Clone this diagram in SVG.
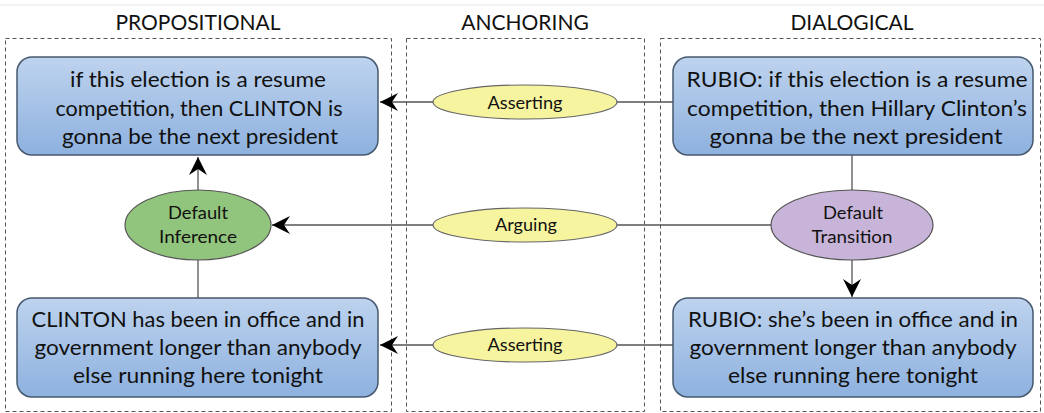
<svg xmlns="http://www.w3.org/2000/svg" width="1044" height="413" viewBox="0 0 1044 413">
<defs>
<linearGradient id="blueGrad" x1="0" y1="0" x2="0" y2="1">
<stop offset="0" stop-color="#bed3ee"/>
<stop offset="1" stop-color="#8db1df"/>
</linearGradient>
<marker id="arrow" viewBox="0 0 20 20" refX="19" refY="10" markerWidth="20" markerHeight="20" markerUnits="userSpaceOnUse" orient="auto">
<path d="M19,10 L1,1 L7,10 L1,19 Z" fill="#000"/>
</marker>
</defs>
<style>
.title{font-family:Lato,"Liberation Sans",sans-serif;font-size:21px;fill:#111;text-anchor:middle}
.lane{fill:none;stroke:#555;stroke-width:1;stroke-dasharray:4,3}
.box{fill:url(#blueGrad);stroke:#46586e;stroke-width:1.5}
.btxt{font-family:Lato,"Liberation Sans",sans-serif;font-size:22px;fill:#111;text-anchor:middle}
.etxt{font-family:Lato,"Liberation Sans",sans-serif;font-size:17.5px;fill:#111;text-anchor:middle}
.yel{fill:#f7f49f;stroke:#666;stroke-width:1.2}
.grn{fill:#91c47c;stroke:#555;stroke-width:1.2}
.pur{fill:#c8b4d8;stroke:#555;stroke-width:1.2}
.conn{fill:none;stroke:#555;stroke-width:1.3}
.arr{marker-end:url(#arrow)}
</style>
<rect width="1044" height="413" fill="#fff"/>
<line x1="0" y1="5" x2="1044" y2="5" stroke="#e6e6e6" stroke-width="1"/>
<g id="lanes">
<rect class="lane" x="5.5" y="38.5" width="386" height="373"/>
<rect class="lane" x="406.5" y="38.5" width="238" height="373"/>
<rect class="lane" x="660.5" y="38.5" width="380" height="373"/>
<text class="title" x="198" y="30">PROPOSITIONAL</text>
<text class="title" x="525" y="30">ANCHORING</text>
<text class="title" x="852" y="30">DIALOGICAL</text>
</g>
<g id="connectors">
<line class="conn arr" x1="673" y1="102" x2="380" y2="102"/>
<line class="conn arr" x1="772" y1="225" x2="272" y2="225"/>
<line class="conn arr" x1="673" y1="345" x2="380" y2="345"/>
<line class="conn arr" x1="198" y1="190" x2="198" y2="157"/>
<line class="conn" x1="198" y1="298" x2="198" y2="260"/>
<line class="conn" x1="852" y1="155" x2="852" y2="190"/>
<line class="conn arr" x1="852" y1="260" x2="852" y2="297"/>
</g>
<g id="prop1">
<rect class="box" x="17" y="57" width="361" height="98" rx="15"/>
<text class="btxt" x="198" y="87" textLength="256" lengthAdjust="spacingAndGlyphs">if this election is a resume</text>
<text class="btxt" x="199" y="116" textLength="287" lengthAdjust="spacingAndGlyphs">competition, then CLINTON is</text>
<text class="btxt" x="200" y="144" textLength="276" lengthAdjust="spacingAndGlyphs">gonna be the next president</text>
</g>
<g id="prop2">
<rect class="box" x="17" y="298" width="361" height="99" rx="15"/>
<text class="btxt" x="198" y="327" textLength="333" lengthAdjust="spacingAndGlyphs">CLINTON has been in office and in</text>
<text class="btxt" x="198" y="355" textLength="327" lengthAdjust="spacingAndGlyphs">government longer than anybody</text>
<text class="btxt" x="198" y="383" textLength="250" lengthAdjust="spacingAndGlyphs">else running here tonight</text>
</g>
<g id="inference">
<ellipse class="grn" cx="198" cy="225" rx="73" ry="35"/>
<text class="etxt" x="198" y="219" textLength="60" lengthAdjust="spacingAndGlyphs">Default</text>
<text class="etxt" x="198" y="243" textLength="78" lengthAdjust="spacingAndGlyphs">Inference</text>
</g>
<g id="assert1">
<ellipse class="yel" cx="525" cy="102" rx="92" ry="17"/>
<text class="etxt" x="525" y="109" textLength="75" lengthAdjust="spacingAndGlyphs">Asserting</text>
</g>
<g id="arguing">
<ellipse class="yel" cx="525" cy="225" rx="92" ry="17"/>
<text class="etxt" x="526" y="231" textLength="62" lengthAdjust="spacingAndGlyphs">Arguing</text>
</g>
<g id="assert2">
<ellipse class="yel" cx="525" cy="345" rx="92" ry="17"/>
<text class="etxt" x="525" y="351" textLength="75" lengthAdjust="spacingAndGlyphs">Asserting</text>
</g>
<g id="dial1">
<rect class="box" x="673" y="57" width="360" height="98" rx="15"/>
<text class="btxt" x="857" y="87" textLength="341" lengthAdjust="spacingAndGlyphs">RUBIO: if this election is a resume</text>
<text class="btxt" x="857" y="116" textLength="340" lengthAdjust="spacingAndGlyphs">competition, then Hillary Clinton’s</text>
<text class="btxt" x="856" y="144" textLength="293" lengthAdjust="spacingAndGlyphs">gonna be the next president</text>
</g>
<g id="transition">
<ellipse class="pur" cx="852" cy="225" rx="81" ry="35"/>
<text class="etxt" x="853" y="219" textLength="60" lengthAdjust="spacingAndGlyphs">Default</text>
<text class="etxt" x="852" y="243" textLength="81" lengthAdjust="spacingAndGlyphs">Transition</text>
</g>
<g id="dial2">
<rect class="box" x="673" y="298" width="360" height="99" rx="15"/>
<text class="btxt" x="853" y="327" textLength="330" lengthAdjust="spacingAndGlyphs">RUBIO: she’s been in office and in</text>
<text class="btxt" x="853" y="355" textLength="327" lengthAdjust="spacingAndGlyphs">government longer than anybody</text>
<text class="btxt" x="853" y="383" textLength="250" lengthAdjust="spacingAndGlyphs">else running here tonight</text>
</g>
</svg>
